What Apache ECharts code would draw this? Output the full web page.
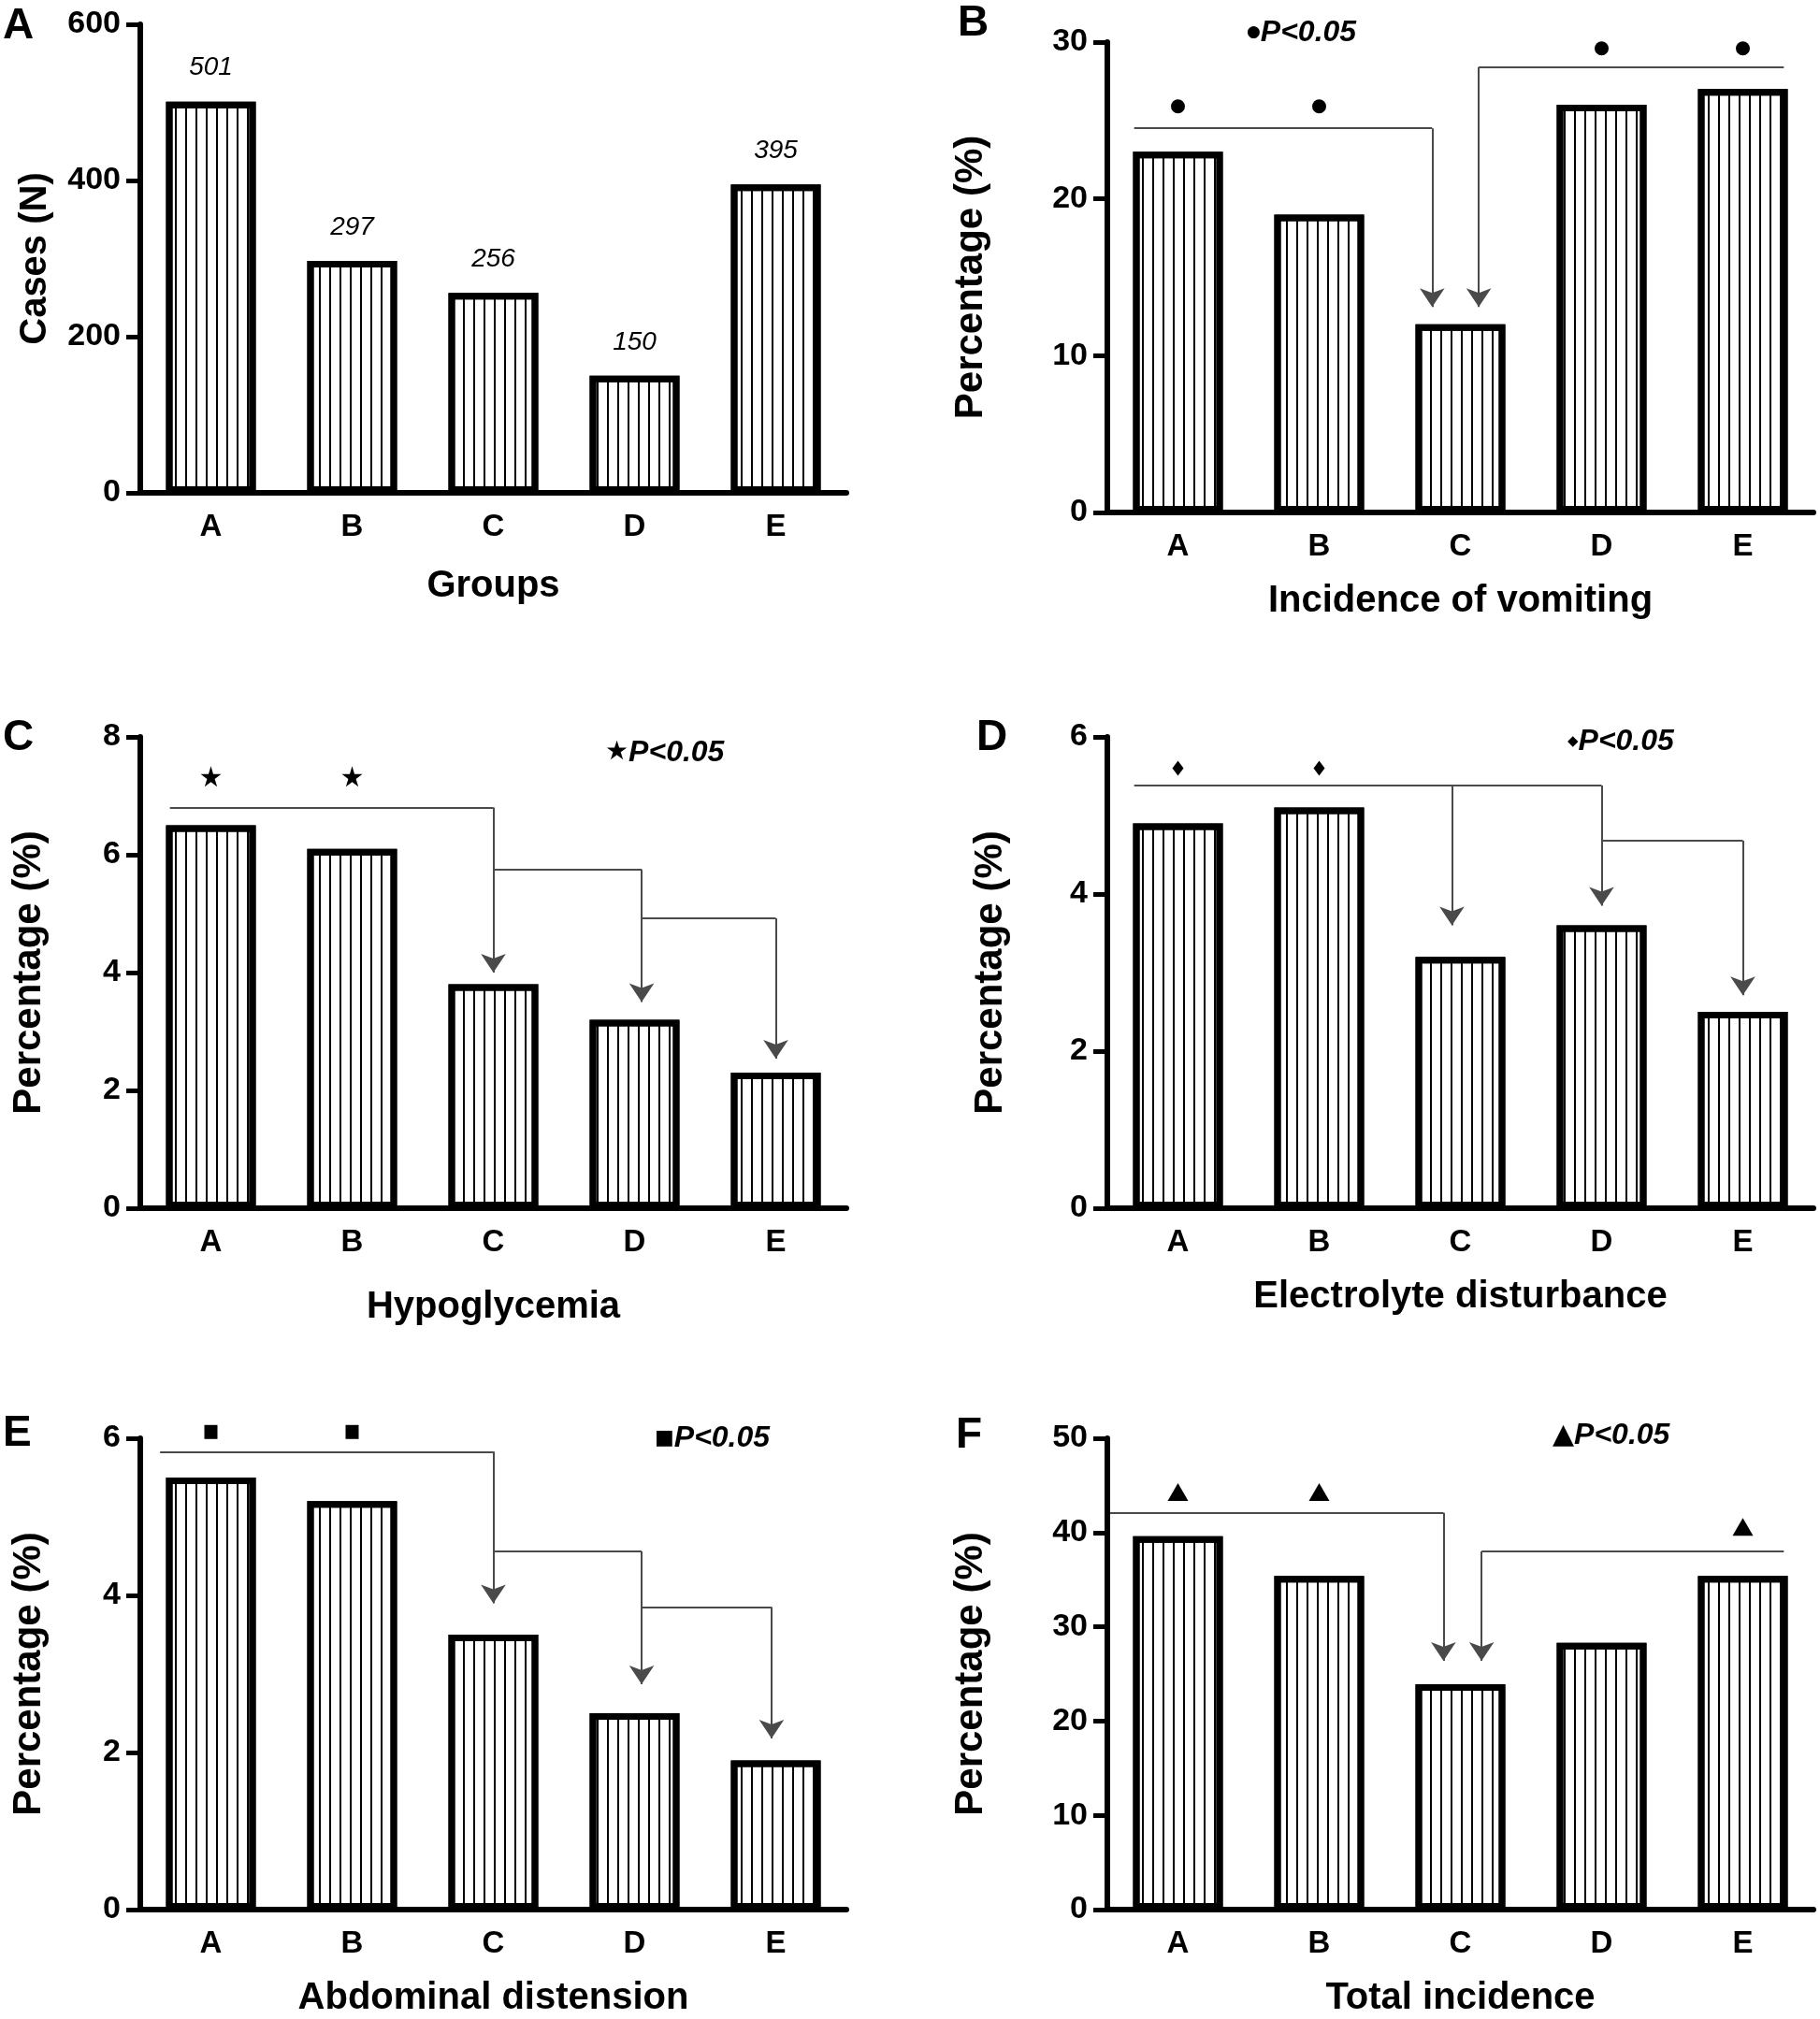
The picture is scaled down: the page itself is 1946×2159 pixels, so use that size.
<!DOCTYPE html>
<html>
<head>
<meta charset="utf-8">
<script src="https://cdn.jsdelivr.net/npm/echarts@6/dist/echarts.min.js"></script>
<style>
  html, body { margin: 0; padding: 0; background: #fff; }
  #main { width: 1946px; height: 2159px; }
</style>
</head>
<body>
<div id="main"></div>
<script>
// groups on every x axis
var groups = ['A', 'B', 'C', 'D', 'E'];

// bar heights per panel
var casesN = [501, 297, 256, 150, 395];
var vomiting = [23, 19, 12, 26, 27];
var hypoglycemia = [6.5, 6.1, 3.8, 3.2, 2.3];
var electrolyte = [4.9, 5.1, 3.2, 3.6, 2.5];
var distension = [5.5, 5.2, 3.5, 2.5, 1.9];
var totalIncidence = [39.6, 35.4, 23.9, 28.3, 35.4];

// significance marks: [group index, value]
var vomitingMarks = [[0, 25.9], [1, 25.9], [3, 29.6], [4, 29.6]];
var hypoMarks = [[0, 7.33], [1, 7.33]];
var electroMarks = [[0, 5.6], [1, 5.6]];
var distensionMarks = [[0, 6.08], [1, 6.08]];
var totalMarks = [[0, 44.3], [1, 44.3], [4, 40.6]];

// comparison brackets (x in group units): span of the line, its level, arrows [x, tip]
var vomitingBrackets = [
  { span: [-0.31, 1.8], level: 24.5, drops: [[1.8, 13.1]] },
  { span: [2.13, 4.29], level: 28.4, drops: [[2.13, 13.1]] }
];
var hypoBrackets = [
  { span: [-0.29, 2], level: 6.8, drops: [[2, 4.0]] },
  { span: [2, 3.05], level: 5.75, drops: [[3.05, 3.5]] },
  { span: [3.05, 4], level: 4.92, drops: [[4, 2.54]] }
];
var electroBrackets = [
  { span: [-0.31, 3], level: 5.38, drops: [[1.94, 3.6], [3, 3.85]] },
  { span: [3, 4], level: 4.68, drops: [[4, 2.71]] }
];
var distensionBrackets = [
  { span: [-0.36, 2], level: 5.83, drops: [[2, 3.9]] },
  { span: [2, 3.05], level: 4.56, drops: [[3.05, 2.87]] },
  { span: [3.05, 3.97], level: 3.85, drops: [[3.97, 2.18]] }
];
var totalBrackets = [
  { span: [-0.48, 1.88], level: 42.1, drops: [[1.88, 26.4]] },
  { span: [2.15, 4.29], level: 38.0, drops: [[2.15, 26.4]] }
];

var FONT = "'Liberation Sans', Arial, sans-serif";
var STAR = 'path://M50,0 L61,35 L98,35 L68,57 L79,91 L50,70 L21,91 L32,57 L2,35 L39,35 Z';

var panels = [
  { letter: 'A', values: casesN, max: 600, step: 200, xName: 'Groups', yName: 'Cases (N)',
    marks: [], brackets: [], showValues: true,
    grid: [150, 26, 501], xGap: 80, yGap: 92, yNameSize: 40, letterPos: [3, 5] },
  { letter: 'B', values: vomiting, max: 30, step: 10, xName: 'Incidence of vomiting', yName: 'Percentage (%)',
    marks: vomitingMarks, symbol: 'circle', symbolSize: 15, brackets: vomitingBrackets,
    sig: '{s|\u25CF}P<0.05', sigSize: 17, sigPos: [1333, 19],
    grid: [1184, 45, 503], xGap: 75, yGap: 125, yNameSize: 42, letterPos: [1024, 2] },
  { letter: 'C', values: hypoglycemia, max: 8, step: 2, xName: 'Hypoglycemia', yName: 'Percentage (%)',
    marks: hypoMarks, symbol: STAR, symbolSize: 22, brackets: hypoBrackets,
    sig: '{s|\u2605}P<0.05', sigSize: 28, sigPos: [647, 789],
    grid: [150, 788, 504], xGap: 86, yGap: 98, yNameSize: 42, letterPos: [3, 766] },
  { letter: 'D', values: electrolyte, max: 6, step: 2, xName: 'Electrolyte disturbance', yName: 'Percentage (%)',
    marks: electroMarks, symbol: 'diamond', symbolSize: [12, 16], brackets: electroBrackets,
    sig: '{s|\u25C6}P<0.05', sigSize: 15, sigPos: [1676, 777],
    grid: [1184, 788, 504], xGap: 75, yGap: 104, yNameSize: 42, letterPos: [1044, 766] },
  { letter: 'E', values: distension, max: 6, step: 2, xName: 'Abdominal distension', yName: 'Percentage (%)',
    marks: distensionMarks, symbol: 'rect', symbolSize: [14, 15], brackets: distensionBrackets,
    sig: '{s|\u25A0}P<0.05', sigSize: 22, sigPos: [700, 1522],
    grid: [150, 1538, 504], xGap: 75, yGap: 98, yNameSize: 42, letterPos: [3, 1510] },
  { letter: 'F', values: totalIncidence, max: 50, step: 10, xName: 'Total incidence', yName: 'Percentage (%)',
    marks: totalMarks, symbol: 'triangle', symbolSize: [22, 19], brackets: totalBrackets,
    sig: '{s|\u25B2}P<0.05', sigSize: 30, sigPos: [1660, 1519],
    grid: [1184, 1538, 504], xGap: 75, yGap: 125, yNameSize: 42, letterPos: [1022, 1512] }
];

var grids = [], xAxes = [], yAxes = [], series = [], titles = [];

panels.forEach(function (p, i) {
  grids.push({ left: p.grid[0], top: p.grid[1], width: 755, height: p.grid[2] });

  xAxes.push({
    type: 'category', gridIndex: i, data: groups,
    name: p.xName, nameLocation: 'middle', nameGap: p.xGap,
    nameTextStyle: { fontFamily: FONT, fontWeight: 'bold', fontSize: 40, color: '#000' },
    axisLine: { onZero: false, lineStyle: { color: '#000', width: 6 } },
    axisTick: { alignWithLabel: true, length: 16, lineStyle: { color: '#000', width: 5 } },
    axisLabel: { margin: 20, fontFamily: FONT, fontWeight: 'bold', fontSize: 33, color: '#000' }
  });
  // hidden helper axis so brackets can sit between group centres
  xAxes.push({ type: 'value', gridIndex: i, min: -0.5, max: 4.5, show: false });

  yAxes.push({
    type: 'value', gridIndex: i, min: 0, max: p.max, interval: p.step,
    name: p.yName, nameLocation: 'middle', nameGap: p.yGap, nameRotate: 90,
    nameTextStyle: { fontFamily: FONT, fontWeight: 'bold', fontSize: p.yNameSize, color: '#000' },
    axisLine: { show: true, onZero: false, lineStyle: { color: '#000', width: 6 } },
    axisTick: { show: true, length: 15, lineStyle: { color: '#000', width: 5 } },
    axisLabel: { margin: 21, fontFamily: FONT, fontWeight: 'bold', fontSize: 34, color: '#000' },
    splitLine: { show: false }
  });

  series.push({
    type: 'bar', xAxisIndex: 2 * i, yAxisIndex: i, data: p.values, barWidth: 96,
    itemStyle: {
      color: '#fff', borderColor: '#000', borderWidth: 7,
      decal: { symbol: 'rect', symbolSize: 1, color: '#000', dashArrayX: [2, 9], dashArrayY: [20, 0] }
    },
    label: {
      show: !!p.showValues, position: 'top', distance: 22,
      fontFamily: FONT, fontStyle: 'italic', fontSize: 28, color: '#000'
    },
    emphasis: { disabled: true }
  });

  if (p.marks.length) {
    series.push({
      type: 'scatter', xAxisIndex: 2 * i, yAxisIndex: i, data: p.marks,
      symbol: p.symbol, symbolSize: p.symbolSize, clip: false,
      itemStyle: { color: '#000', opacity: 1 }, z: 5,
      emphasis: { disabled: true }
    });
  }

  if (p.brackets.length) {
    var flat = [], drops = [];
    p.brackets.forEach(function (b) {
      flat.push({ coords: [[b.span[0], b.level], [b.span[1], b.level]] });
      b.drops.forEach(function (d) {
        drops.push({ coords: [[d[0], b.level], [d[0], d[1]]] });
      });
    });
    series.push({
      type: 'lines', coordinateSystem: 'cartesian2d', xAxisIndex: 2 * i + 1, yAxisIndex: i,
      data: flat, symbol: 'none', clip: false, z: 4,
      lineStyle: { color: '#4a4a4a', width: 2, opacity: 1, curveness: 0 }
    });
    series.push({
      type: 'lines', coordinateSystem: 'cartesian2d', xAxisIndex: 2 * i + 1, yAxisIndex: i,
      data: drops, symbol: ['none', 'arrow'], symbolSize: 20, clip: false, z: 4,
      lineStyle: { color: '#4a4a4a', width: 2, opacity: 1, curveness: 0 }
    });
  }

  titles.push({
    text: p.letter, left: p.letterPos[0], top: p.letterPos[1], padding: 0,
    textStyle: { fontFamily: FONT, fontWeight: 'bold', fontSize: 46, color: '#000' }
  });
  if (p.sig) {
    titles.push({
      text: p.sig, left: p.sigPos[0], top: p.sigPos[1], padding: 0,
      textStyle: {
        fontFamily: FONT, fontWeight: 'bold', fontStyle: 'italic', fontSize: 32, color: '#000',
        rich: { s: { fontFamily: "'DejaVu Sans', sans-serif", fontSize: p.sigSize, color: '#000', verticalAlign: 'middle' } }
      }
    });
  }
});

var chart = echarts.init(document.getElementById('main'));
chart.setOption({
  backgroundColor: '#fff',
  animation: false,
  title: titles,
  grid: grids,
  xAxis: xAxes,
  yAxis: yAxes,
  series: series
});
</script>
</body>
</html>
